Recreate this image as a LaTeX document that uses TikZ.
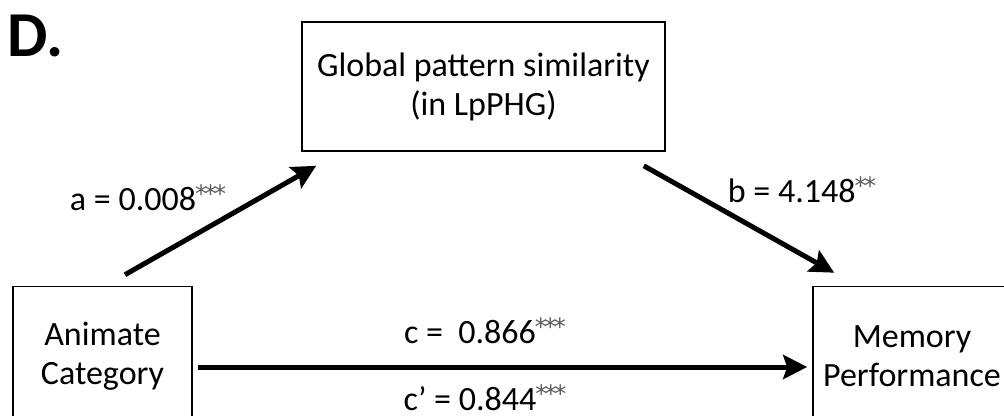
\documentclass[tikz,border=0pt]{standalone}
\usepackage{fontspec}
\setmainfont{Carlito}
\newfontfamily\starfont{DejaVu Sans}
\usetikzlibrary{arrows.meta,calc}
\tikzset{
  box/.style={draw=black, line width=1.6pt, align=center, inner sep=0pt,
    font=\fontsize{34}{39}\selectfont},
  lbl/.style={inner sep=0pt, font=\fontsize{34}{39}\selectfont},
  arr/.style={line width=5pt, -{Stealth[length=24pt,width=24pt,inset=4pt]}},
}
\newcommand{\onestar}{*\kern-2.5pt}
\newcommand{\stars}[1]{\raisebox{8pt}{\starfont\fontsize{24}{24}\selectfont\color{black!65}\kern-1pt#1}}
\begin{document}
\begin{tikzpicture}[x=1pt,y=-1pt]
\useasboundingbox (0,0) rectangle (1004,415);
\clip (0,0) rectangle (1004,415);
\node[anchor=base west, inner sep=0pt, font=\fontsize{64}{66}\selectfont\bfseries] (D) at (7,56) {D.};
\node[box, minimum width=363pt, minimum height=129pt] (M) at (483.5,86.5) {Global pattern similarity\\(in LpPHG)};
\node[box, minimum width=179pt, minimum height=139pt] (A) at (102.5,356) {Animate\\Category};
\node[box, minimum width=198pt, minimum height=139pt] (R) at (912,356) {Memory\\Performance};
\draw[arr] ([shift={(22.5pt,11pt)}]A.north) -- ([shift={(15pt,-14pt)}]M.south west);
\draw[arr] ([shift={(-22pt,-14pt)}]M.south east) -- ([shift={(22pt,13pt)}]R.north west);
\draw[arr] ([shift={(5pt,-11pt)}]A.east) -- ([shift={(-5pt,-11pt)}]R.west);
\node[lbl, anchor=base] (la) at (148,210) {a = 0.008\stars{\onestar\onestar*}};
\node[lbl, anchor=base] (lb) at (802,202) {b = 4.148\stars{\onestar*}};
\node[lbl, anchor=base] (lc) at (485,343) {c =~ 0.866\stars{\onestar\onestar*}};
\node[lbl, anchor=base] (lc2) at (485,410) {c’ = 0.844\stars{\onestar\onestar*}};
\end{tikzpicture}
\end{document}
